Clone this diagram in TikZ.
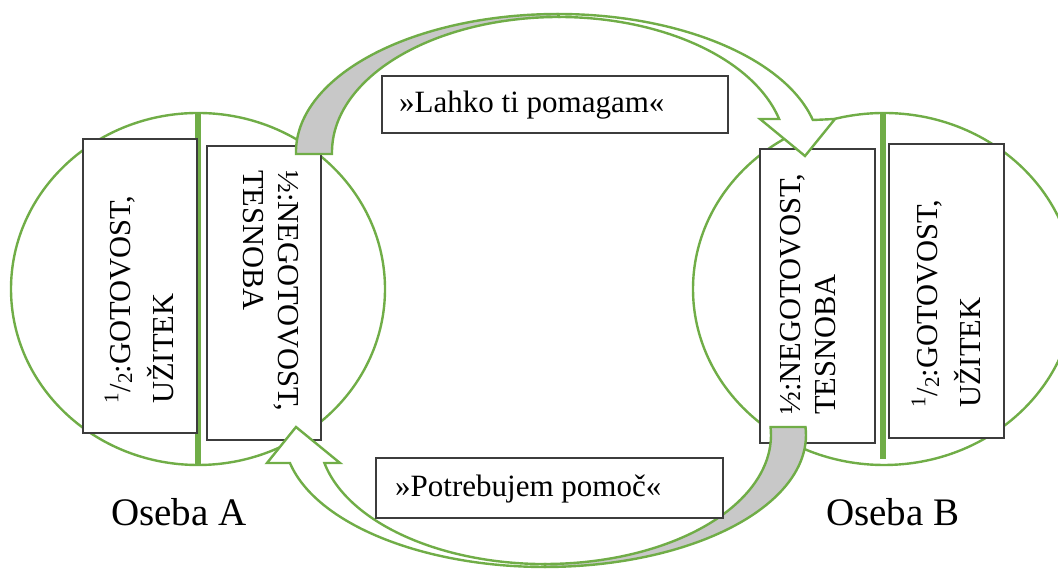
\documentclass[tikz,border=0pt]{standalone}
\usepackage{fontspec}
\setmainfont{Liberation Serif}
\definecolor{leaf}{RGB}{112,173,71}
\definecolor{shade}{RGB}{200,200,200}
\definecolor{frame}{RGB}{60,60,60}
% built-up fraction one half (raised 1, slash, lowered 2)
\newcommand\myhalf{{\fontsize{21}{21}\selectfont\raisebox{0.55em}{1}}\kern0.02em/\kern0.02em{\fontsize{21}{21}\selectfont\raisebox{-0.1em}{2}}}

\begin{document}
\begin{tikzpicture}[x=1pt,y=1pt,
  ring/.style={draw=leaf, line width=2.4pt},
  divider/.style={draw=leaf, line width=5.5pt},
  panel/.style={draw=frame, line width=1.4pt, fill=white, inner sep=0pt},
  vlabel/.style={font=\fontsize{30.5}{36}\selectfont, inner sep=0pt, anchor=base west},
  band/.style={draw=leaf, line width=2.4pt, line join=miter, miter limit=10},
  speech/.style={font=\fontsize{31}{37}\selectfont, inner sep=0pt, anchor=base west},
  person/.style={font=\fontsize{39}{46}\selectfont, inner sep=0pt, anchor=base west},
]
\useasboundingbox (0,0) rectangle (1058,569);
\clip (0,0) rectangle (1058,569);

% the two persons
\draw[ring] (198,280) ellipse[x radius=187, y radius=176];
\draw[ring] (884,280) ellipse[x radius=191, y radius=176];
\draw[divider] (198,456) -- (198,104);
\draw[divider] (883,456) -- (883,110);

% halves of person A
\node[panel, minimum width=114, minimum height=294] (a1) at (140,283) {};
\node[panel, minimum width=114, minimum height=294] (a2) at (264,276) {};
% halves of person B
\node[panel, minimum width=115, minimum height=294] (b1) at (817.5,273) {};
\node[panel, minimum width=115, minimum height=294] (b2) at (946.5,278) {};

% vertical labels
\node[vlabel, rotate=90] (a1l1) at (130,165) {\myhalf:GOTOVOST,};
\node[vlabel, rotate=90] (a1l2) at (173,165) {UŽITEK};
\node[vlabel, rotate=-90] (a2l1) at (278,399) {½:NEGOTOVOST,};
\node[vlabel, rotate=-90] (a2l2) at (243,399) {TESNOBA};
\node[vlabel, rotate=90] (b1l1) at (800,154) {½:NEGOTOVOST,};
\node[vlabel, rotate=90] (b1l2) at (835,154) {TESNOBA};
\node[vlabel, rotate=90] (b2l1) at (937,161) {\myhalf:GOTOVOST,};
\node[vlabel, rotate=90] (b2l2) at (980,161) {UŽITEK};

% curved arrow over the top, from A to B
\draw[band, fill=shade] (296,415)
  arc[start angle=180.83, end angle=90, x radius=262, y radius=138]
  -- (559,552)
  arc[start angle=90, end angle=180.85, x radius=227, y radius=135] -- cycle;
\draw[band, fill=white] (558,555)
  arc[start angle=90, end angle=13.4, x radius=262, y radius=138]
  -- (835,450) -- (805,413) -- (760,450) -- (779.1,450)
  arc[start angle=14.15, end angle=90, x radius=227, y radius=135] -- cycle;

% curved arrow underneath, from B to A
\draw[band, fill=shade] (805.5,142)
  arc[start angle=3.47, end angle=-90, x radius=261, y radius=132]
  -- (545,5)
  arc[start angle=-90, end angle=3.55, x radius=226, y radius=129] -- cycle;
\draw[band, fill=white] (545,2)
  arc[start angle=270, end angle=192.25, x radius=261, y radius=132]
  -- (267,106) -- (296,142) -- (340,106) -- (324.4,106)
  arc[start angle=192.5, end angle=270, x radius=226, y radius=129] -- cycle;

% spoken messages
\node[panel, minimum width=346, minimum height=57] (offer) at (555,464.5) {};
\node[speech] (offertext) at (399,456) {»Lahko ti pomagam«};
\node[panel, minimum width=347, minimum height=60] (ask) at (549.5,81) {};
\node[speech] (asktext) at (395,72.3) {»Potrebujem pomoč«};

% names
\node[person] (pa) at (111,43) {Oseba A};
\node[person] (pb) at (826,43) {Oseba B};
\end{tikzpicture}
\end{document}
